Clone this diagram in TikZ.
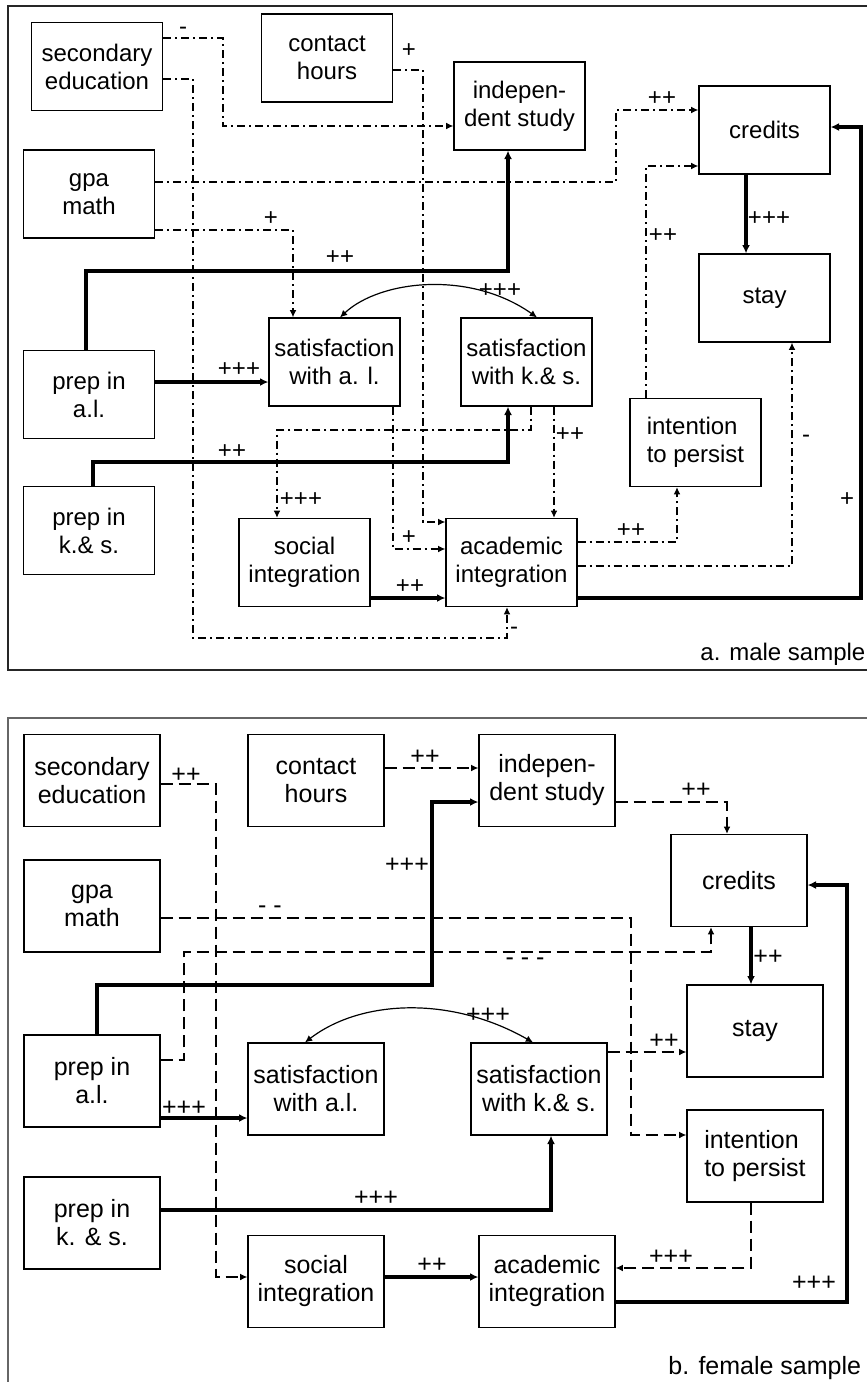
\documentclass[tikz,border=0pt]{standalone}
\usepackage{fontspec}
\setmainfont{Liberation Sans}
\usetikzlibrary{arrows.meta}
\tikzset{>={Latex[length=3.6pt,width=3.4pt]}}
\newcommand*{\fsa}{\fontsize{12}{14}\selectfont}
\newcommand*{\fsb}{\fontsize{12.5}{14}\selectfont}

\begin{document}
\begin{tikzpicture}[x=0.5pt,y=-0.5pt,
  boxa/.style={draw,line width=0.6pt,minimum width=65.5pt,minimum height=44pt,
    inner sep=1pt,align=center,font=\fsa},
  boxb/.style={boxa,minimum width=68pt,minimum height=46pt,font=\fsb},
  lbla/.style={inner sep=0pt,font=\fsa},
  lblb/.style={inner sep=0pt,font=\fsb},
  dashdot/.style={line width=1pt,dash pattern=on 4pt off 2pt on 1pt off 2pt},
  longdash/.style={line width=1pt,dash pattern=on 6pt off 3pt},
  heavy/.style={line width=1.8pt,>={Latex[length=4.2pt,width=4pt]}}]
\useasboundingbox (0,0) rectangle (867,1382);
\clip (0,0) rectangle (867,1382);
\draw[black!85,line width=0.6pt] (8,6) rectangle (900,670);
\draw[black!60,line width=0.7pt] (8,718) rectangle (900,1420);

\node[boxa] (ase) at (97,66.5) {secondary\\education};
\node[boxa] (ach) at (327,58) {contact\\hours};
\node[boxa] (agpa) at (89,194) {gpa\\math};
\node[boxa] (ais) at (519.5,106) {indepen-\\dent study};
\node[boxa] (acr) at (764.5,130) {credits};
\node[boxa] (ast) at (764.5,298) {stay};
\node[boxa] (apal) at (89,394.5) {prep in\\a.l.};
\node[boxa] (asal) at (334.5,362) {satisfaction\\with a. l.};
\node[boxa] (apks) at (89,530.5) {prep in\\k.\& s.};
\node[boxa] (asi) at (304.5,562.5) {social\\integration};
\node[boxa] (asks) at (526.5,362) {satisfaction\\with k.\& s.};
\node[boxa,align=left] (aip) at (695.5,442.5) {intention\\to persist};
\node[boxa] (aai) at (511.5,562.5) {academic\\integration};
\node[lbla,anchor=base west] (alab) at (700,660) {a. male sample};

\draw[dashdot,->] (ase.east |- 0,38) -| (223,126) -- (ais.west |- 0,126)
  node[lbla] at (183,31) {-};
\draw[dashdot,->] (ase.east |- 0,79) -| (193,638) -| (aai.south -| 507,0)
  node[lbla] at (514,631) {-};
\draw[dashdot,->] (ach.east |- 0,70) -| (423,522) -- (aai.west |- 0,522)
  node[lbla] at (409,51) {+};
\draw[dashdot,->] (agpa.east |- 0,182) -| (616,110) -- (acr.west |- 0,110)
  node[lbla] at (662,99) {++};
\draw[dashdot,->] (agpa.east |- 0,230) -| (asal.north -| 293,0)
  node[lbla] at (271,219) {+};
\draw[heavy,->] (apal.north -| 86,0) |- (508,271) -- (ais.south -| 508,0)
  node[lbla] at (340,258) {++};
\draw[heavy,->] (apal.east |- 0,382) -- (asal.west |- 0,382)
  node[lbla] at (239,370) {+++};
\draw[line width=0.6pt,<->] (asal.north -| 340,0) .. controls (380,280) and (470,270) .. (asks.north -| 537,0)
  node[lbla] at (500,291) {+++};
\draw[heavy,->] (apks.north -| 93,0) |- (508,462) -- (asks.south -| 508,0)
  node[lbla] at (232,452) {++};
\draw[dashdot,->] (asks.south -| 531,0) |- (277,430) -- (asi.north -| 277,0)
  node[lbla] at (301,500) {+++};
\draw[dashdot,->] (asal.south -| 393,0) |- (aai.west |- 0,549)
  node[lbla] at (409,538) {+};
\draw[dashdot,->] (asks.south -| 554,0) -- (aai.north -| 554,0)
  node[lbla] at (570,435) {++};
\draw[heavy,->] (asi.east |- 0,598) -- (aai.west |- 0,598)
  node[lbla] at (410,587) {++};
\draw[dashdot,->] (aai.east |- 0,542) -| (aip.south -| 677,0)
  node[lbla] at (631,531) {++};
\draw[dashdot,->] (aai.east |- 0,566) -| (ast.south -| 792,0)
  node[lbla] at (806,439) {-};
\draw[heavy,->] (aai.east |- 0,598) -| (861,127) -- (acr.east |- 0,127)
  node[lbla] at (847,500) {+};
\draw[dashdot,->] (aip.north -| 646,0) |- (acr.west |- 0,166)
  node[lbla] at (663,236) {++};
\draw[heavy,->] (acr.south -| 746,0) -- (ast.north -| 746,0)
  node[lbla] at (769,219) {+++};

\node[boxb] (bse) at (92,780.5) {secondary\\education};
\node[boxb] (bch) at (316,780.5) {contact\\hours};
\node[boxb] (bgpa) at (92,906) {gpa\\math};
\node[boxb] (bis) at (547,780.5) {indepen-\\dent study};
\node[boxb] (bcr) at (739,880.5) {credits};
\node[boxb] (bst) at (755,1031) {stay};
\node[boxb] (bpal) at (92,1081) {prep in\\a.l.};
\node[boxb] (bsal) at (316,1089) {satisfaction\\with a.l.};
\node[boxb] (bpks) at (92,1223) {prep in\\k. \& s.};
\node[boxb] (bsi) at (316,1281.5) {social\\integration};
\node[boxb] (bsks) at (539,1089) {satisfaction\\with k.\& s.};
\node[boxb,align=left] (bip) at (755,1156) {intention\\to persist};
\node[boxb] (bai) at (547,1281.5) {academic\\integration};
\node[lblb,anchor=base west] (blab) at (668,1374) {b. female sample};

\draw[longdash,->] (bse.east |- 0,784) -| (216,1277) -- (bsi.west |- 0,1277)
  node[lblb] at (186,775) {++};
\draw[longdash,->] (bch.east |- 0,768) -- (bis.west |- 0,768)
  node[lblb] at (425,757) {++};
\draw[longdash,->] (bis.east |- 0,802) -| (bcr.north -| 727,0)
  node[lblb] at (696,790) {++};
\draw[heavy,->] (bpal.north -| 97,0) |- (432,985) |- (bis.west |- 0,802)
  node[lblb] at (407,865) {+++};
\draw[longdash,->] (bgpa.east |- 0,918) -| (631,1135) -- (bip.west |- 0,1135)
  node[lblb] at (270,910) {- -};
\draw[longdash,->] (bpal.east |- 0,1060) -| (184,952) -| (bcr.south -| 711,0)
  node[lblb] at (525,962) {- - -};
\draw[heavy,->] (bpal.east |- 0,1118) -- (bsal.west |- 0,1118)
  node[lblb] at (184,1108) {+++};
\draw[line width=0.6pt,<->] (bsal.north -| 305,0) .. controls (360,1000) and (450,995) .. (bsks.north -| 533,0)
  node[lblb] at (488,1015) {+++};
\draw[heavy,->] (bpks.east |- 0,1210) -| (bsks.south -| 551,0)
  node[lblb] at (376,1198) {+++};
\draw[longdash,->] (bsks.east |- 0,1052) -- (bst.west |- 0,1052)
  node[lblb] at (664,1041) {++};
\draw[heavy,->] (bsi.east |- 0,1277) -- (bai.west |- 0,1277)
  node[lblb] at (432,1265) {++};
\draw[longdash,->] (bip.south -| 751,0) |- (bai.east |- 0,1268)
  node[lblb] at (671,1257) {+++};
\draw[heavy,->] (bai.east |- 0,1302) -| (847,885) -- (bcr.east |- 0,885)
  node[lblb] at (814,1283) {+++};
\draw[heavy,->] (bcr.south -| 751,0) -- (bst.north -| 751,0)
  node[lblb] at (768,957) {++};
\end{tikzpicture}
\end{document}
